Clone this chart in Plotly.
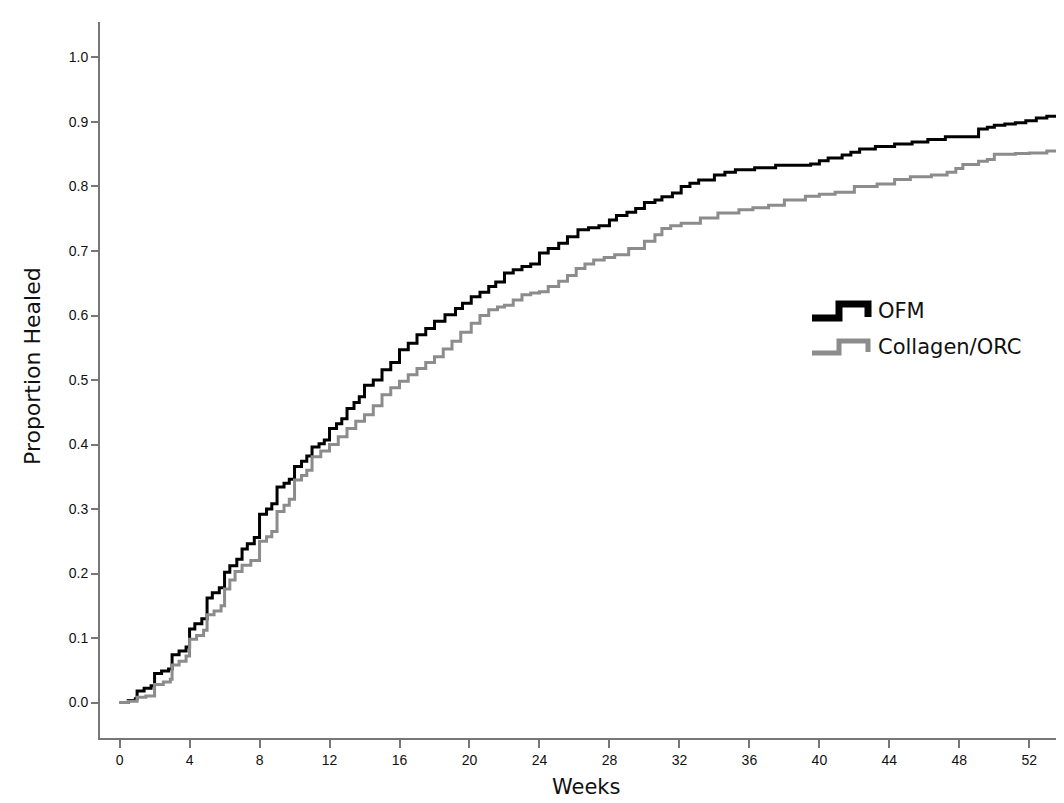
import plotly.graph_objects as go

# ---- data ----
ofm_weeks = [0, 0.5, 0.9, 1.0, 1.4, 1.8, 2.0, 2.4, 2.8, 3.0, 3.4, 3.8, 4.0, 4.3, 4.7,
             5.0, 5.3, 5.7, 6.0, 6.3, 6.7, 7.0, 7.3, 7.7, 8.0, 8.4, 8.7, 9.0, 9.4, 9.7,
             10.0, 10.4, 10.7, 11.0, 11.4, 11.7, 12.0, 12.4, 12.7, 13.0, 13.4, 13.7,
             14.0, 14.5, 15.0, 15.5, 16.0, 16.5, 17.0, 17.5, 18.0, 18.6, 19.2, 19.6,
             20.1, 20.6, 21.1, 21.5, 22.0, 22.5, 23.0, 23.5, 24.0, 24.5, 25.1, 25.6,
             26.2, 26.8, 27.4, 28.0, 28.4, 29.0, 29.5, 30.0, 30.6, 31.0, 31.6, 32.1,
             32.6, 33.1, 34.0, 34.6, 35.2, 36.3, 37.5, 39.5, 40.0, 40.5, 41.3, 41.8,
             42.3, 43.2, 44.3, 45.3, 46.2, 47.2, 49.1, 49.6, 50.0, 50.6, 51.2, 51.8,
             52.4, 53.0, 55.0]
ofm_prop = [0, 0.003, 0.006, 0.018, 0.022, 0.026, 0.045, 0.049, 0.052, 0.074, 0.080, 0.086,
            0.114, 0.122, 0.130, 0.162, 0.170, 0.178, 0.202, 0.212, 0.222, 0.238, 0.246,
            0.256, 0.292, 0.300, 0.308, 0.334, 0.340, 0.346, 0.366, 0.374, 0.382, 0.396,
            0.401, 0.407, 0.425, 0.432, 0.440, 0.456, 0.465, 0.474, 0.492, 0.500, 0.516,
            0.527, 0.547, 0.557, 0.570, 0.580, 0.591, 0.601, 0.611, 0.619, 0.629, 0.636,
            0.645, 0.652, 0.666, 0.671, 0.676, 0.680, 0.697, 0.704, 0.712, 0.722, 0.733,
            0.736, 0.739, 0.748, 0.755, 0.760, 0.766, 0.775, 0.779, 0.784, 0.790, 0.800,
            0.805, 0.810, 0.818, 0.822, 0.826, 0.829, 0.833, 0.835, 0.840, 0.844, 0.849,
            0.853, 0.858, 0.862, 0.866, 0.869, 0.873, 0.877, 0.889, 0.892, 0.895, 0.897,
            0.899, 0.902, 0.906, 0.909, 0.909]

col_weeks = [0, 0.5, 1.0, 1.5, 2.0, 2.5, 2.9, 3.0, 3.4, 3.8, 4.0, 4.4, 4.8, 5.0, 5.4, 5.8,
             6.0, 6.3, 6.6, 7.0, 7.5, 8.0, 8.4, 8.7, 9.0, 9.4, 9.7, 10.0, 10.4, 10.7,
             11.0, 11.5, 12.0, 12.5, 13.0, 13.5, 14.0, 14.5, 15.0, 15.5, 16.0, 16.5,
             17.0, 17.5, 18.0, 18.5, 19.0, 19.5, 20.1, 20.6, 21.1, 21.6, 22.0, 22.5,
             23.0, 23.5, 24.0, 24.5, 25.1, 25.6, 26.1, 26.6, 27.1, 27.7, 28.3, 29.1,
             30.0, 30.6, 31.0, 31.5, 32.1, 33.2, 34.2, 35.4, 36.2, 37.1, 38.0, 39.2,
             40.0, 40.9, 42.0, 43.3, 44.3, 45.2, 46.4, 47.3, 47.8, 48.2, 49.1, 49.6,
             50.0, 51.2, 52.0, 53.0, 54.1, 55.0]
col_prop = [0, 0.002, 0.008, 0.010, 0.028, 0.032, 0.036, 0.058, 0.064, 0.072, 0.098, 0.104,
            0.112, 0.136, 0.142, 0.150, 0.176, 0.190, 0.203, 0.213, 0.220, 0.250, 0.257,
            0.265, 0.296, 0.306, 0.315, 0.345, 0.352, 0.360, 0.381, 0.390, 0.400, 0.412,
            0.425, 0.436, 0.446, 0.460, 0.477, 0.488, 0.498, 0.508, 0.518, 0.527, 0.536,
            0.548, 0.560, 0.574, 0.588, 0.600, 0.609, 0.613, 0.616, 0.624, 0.632, 0.635,
            0.637, 0.645, 0.653, 0.662, 0.673, 0.680, 0.686, 0.690, 0.694, 0.704, 0.715,
            0.725, 0.735, 0.739, 0.743, 0.751, 0.759, 0.764, 0.767, 0.771, 0.779, 0.785,
            0.788, 0.791, 0.800, 0.804, 0.811, 0.815, 0.818, 0.822, 0.828, 0.834, 0.839,
            0.842, 0.850, 0.851, 0.852, 0.855, 0.857, 0.857]

x_ticks = list(range(0, 53, 4))
y_ticks = [round(0.1 * i, 1) for i in range(11)]
series_names = ["OFM", "Collagen/ORC"]
series_colors = ["#000000", "#8c8c8c"]

# ---- figure ----
W, H = 1064, 803
L, R, T, B = 92, 0, 14, 73
fig = go.Figure()
for name, xs, ys, c in zip(series_names, [ofm_weeks, col_weeks], [ofm_prop, col_prop], series_colors):
    fig.add_trace(go.Scatter(x=xs, y=ys, mode="lines", name=name,
                             line=dict(color=c, width=3, shape="hv"), showlegend=False))

axis_col = "#777777"
fig.update_layout(
    width=W, height=H,
    margin=dict(l=L, r=R, t=T, b=B, autoexpand=False),
    paper_bgcolor="white", plot_bgcolor="white",
    xaxis=dict(range=[-1.12, 54.44], tickmode="array", tickvals=x_ticks,
               ticktext=[str(v) for v in x_ticks], showgrid=False, zeroline=False,
               showline=True, linecolor=axis_col, linewidth=2, ticks="outside",
               ticklen=8, tickwidth=1.5, tickcolor=axis_col,
               tickfont=dict(family="Liberation Sans Narrow, Arial Narrow, Liberation Sans",
                             size=14, color="#111111")),
    yaxis=dict(range=[-0.055, 1.055], tickmode="array", tickvals=y_ticks,
               ticktext=[f"{v:.1f}" for v in y_ticks], showgrid=False, zeroline=False,
               showline=True, linecolor=axis_col, linewidth=2, ticks="outside",
               ticklen=7, tickwidth=1.5, tickcolor=axis_col,
               tickfont=dict(family="Liberation Sans, Arial", size=14, color="#111111")),
)

pw, ph = W - L - R, H - T - B
def px(xp):
    return (xp - L) / pw
def py(yp):
    return (H - B - yp) / ph

# axis titles
fig.add_annotation(text="Weeks", x=px(578), y=py(779), xref="paper", yref="paper",
                   showarrow=False, xanchor="center", yanchor="middle",
                   font=dict(family="DejaVu Sans", size=21, color="#111111"))
fig.add_annotation(text="Proportion Healed", x=px(24), y=py(358), xref="paper", yref="paper",
                   showarrow=False, xanchor="center", yanchor="middle", textangle=-90,
                   font=dict(family="DejaVu Sans", size=22, color="#111111"))

# custom legend with step-shaped symbols
legend_rows = [(303, 5, 7), (339, 4, 5)]
for (yc, half, lw), name, c in zip(legend_rows, series_names, series_colors):
    lo, hi = yc + half + 2, yc - half - 2
    path = (f"M {px(804)} {py(lo)} L {px(831)} {py(lo)} L {px(831)} {py(hi)} "
            f"L {px(860)} {py(hi)} L {px(860)} {py(lo - 1)}")
    fig.add_shape(type="path", path=path, xref="paper", yref="paper",
                  line=dict(color=c, width=lw))
    fig.add_annotation(text=name, x=px(868), y=py(yc), xref="paper", yref="paper",
                       showarrow=False, xanchor="left", yanchor="middle",
                       font=dict(family="DejaVu Sans", size=21, color="#111111"))

fig.write_html("out.html")
